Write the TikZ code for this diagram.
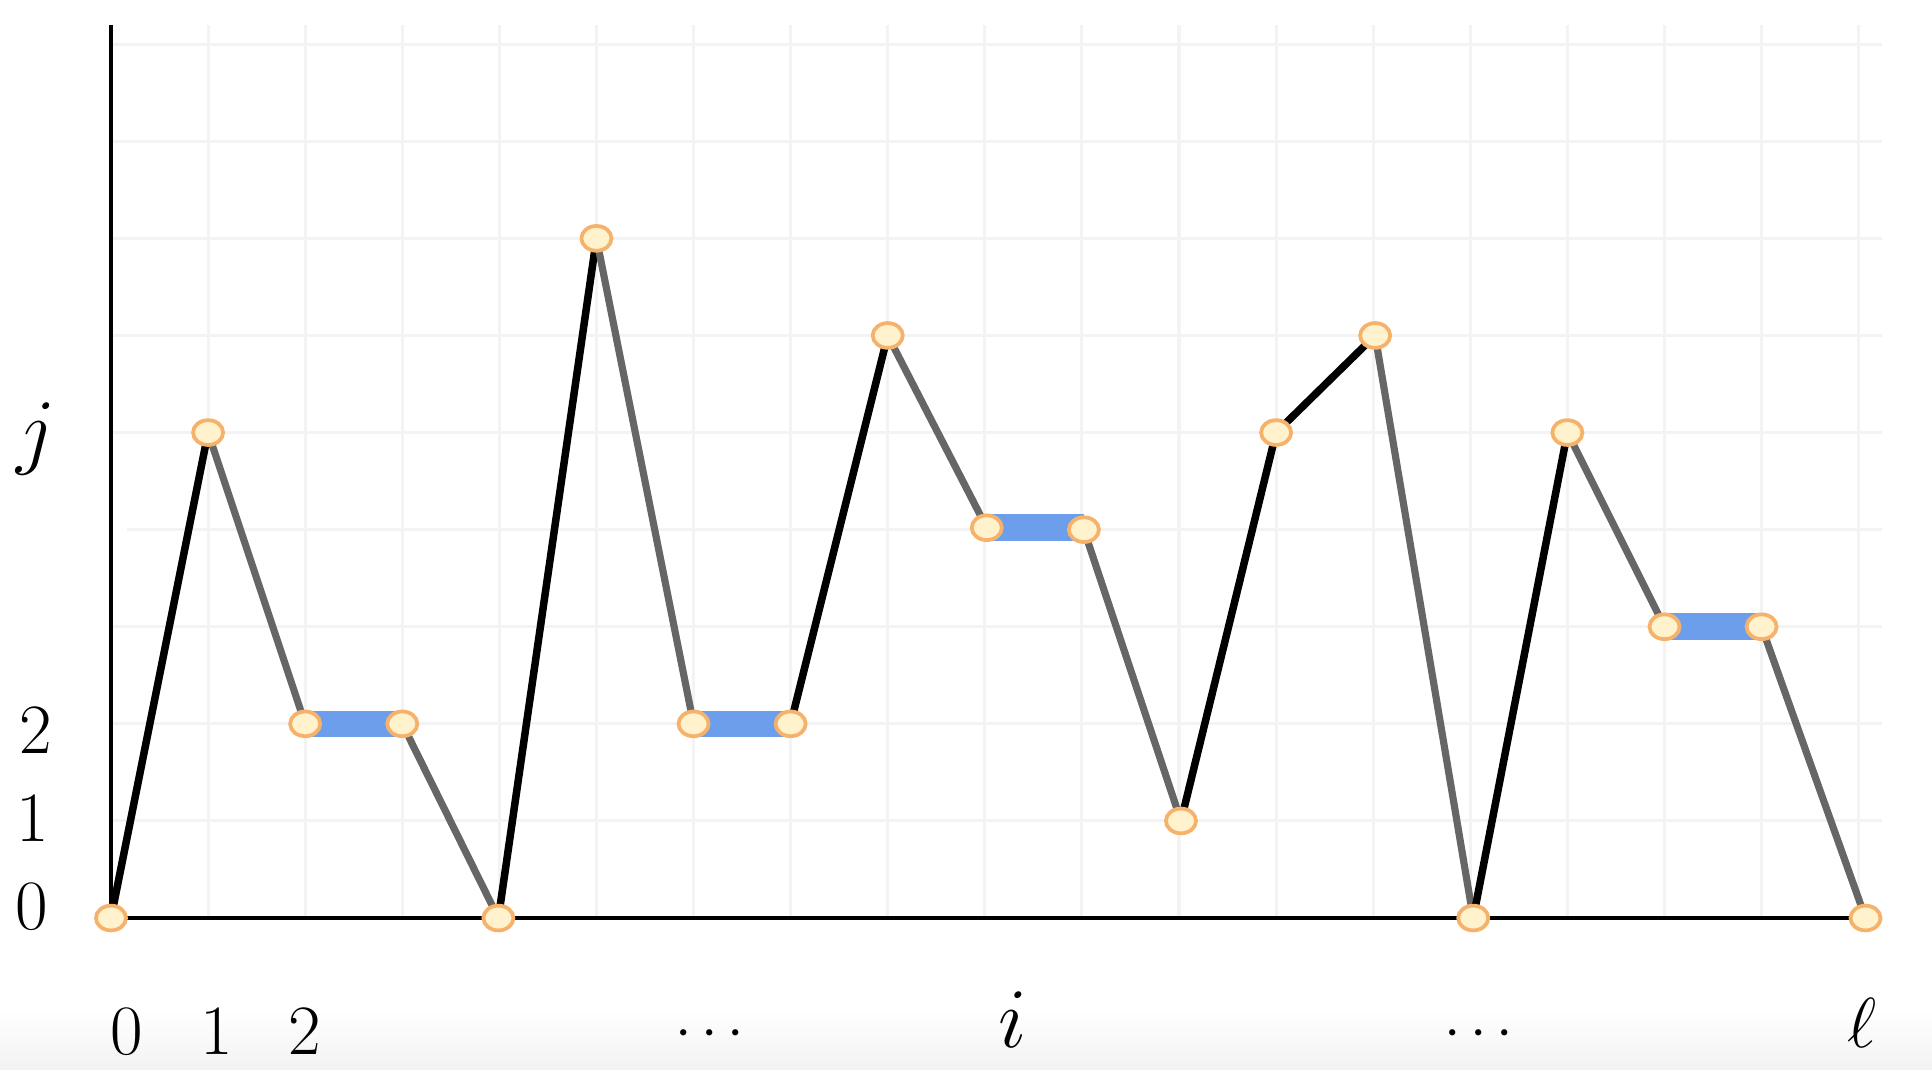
\documentclass[tikz,border=0pt]{standalone}
\usetikzlibrary{shapes.geometric}
\pgfdeclarelayer{background}
\pgfsetlayers{background,main}
\definecolor{gridc}{HTML}{F3F3F3}
\definecolor{dotfill}{HTML}{FFF2CC}
\definecolor{dotline}{HTML}{F6B26B}
\definecolor{bluec}{HTML}{6D9EEB}
\definecolor{grayc}{HTML}{666666}
\begin{document}
\begin{tikzpicture}[x=1cm,y=1cm,
  dot/.style={ellipse, draw=dotline, fill=dotfill, line width=1.1pt,
    minimum width=0.31cm, minimum height=0.255cm, inner sep=0pt},
  upedge/.style={black, line width=2.2pt},
  downedge/.style={grayc, line width=2.1pt},
  flatedge/.style={bluec, line width=7.8pt},
  gridline/.style={gridc, line width=0.9pt},
  axisline/.style={black, line width=1.1pt},
  digit/.style={inner sep=0pt, anchor=base, font=\fontsize{20.5}{24}\selectfont},
  letter/.style={inner sep=0pt, anchor=base, font=\fontsize{25}{28}\selectfont},
  ell/.style={inner sep=0pt, anchor=base, font=\fontsize{21}{24}\selectfont},
  dotslab/.style={inner sep=0pt, anchor=base, font=\fontsize{17}{20}\selectfont}]
\useasboundingbox (-1.143,-1.565) rectangle (18.755,9.455);
\begin{pgfonlayer}{background}
  \shade[top color=white, bottom color=black!5] (-1.143,-1.565) rectangle (18.755,-0.95);
  \foreach \x in {1,...,18} \draw[gridline] (\x,0) -- (\x,9.2);
  \foreach \y in {1,2,3,5,6,7,8,9} \draw[gridline] (0.02,\y) -- (18.24,\y);
  \draw[gridline] (0.16,4) -- (18.24,4);
\end{pgfonlayer}

% points
\node[dot] (p0) at (0,0) {};
\node[dot] (p1) at (1,5) {};
\node[dot] (p2) at (2,2) {};
\node[dot] (p3) at (3,2) {};
\node[dot] (p4) at (3.99,0) {};
\node[dot] (p5) at (5,7) {};
\node[dot] (p6) at (6,2) {};
\node[dot] (p7) at (7,2) {};
\node[dot] (p8) at (8,6) {};
\node[dot] (p9) at (9.02,4.02) {};
\node[dot] (p10) at (10.02,4) {};
\node[dot] (p11) at (11.02,1) {};
\node[dot] (p12) at (12,5) {};
\node[dot] (p13) at (13.02,6) {};
\node[dot] (p14) at (14.03,0) {};
\node[dot] (p15) at (15,5) {};
\node[dot] (p16) at (16,3) {};
\node[dot] (p17) at (17,3) {};
\node[dot] (p18) at (18.07,0) {};
\coordinate (ytop) at (0,9.2);

% labels
\node[digit] (y0) at (-0.82,-0.12) {$0$};
\node[digit] (y1) at (-0.81,0.79) {$1$};
\node[digit] (y2) at (-0.78,1.69) {$2$};
\node[letter] (yj) at (-0.77,4.73) {$j$};
\node[digit] (x0) at (0.16,-1.41) {$0$};
\node[digit] (x1) at (1.09,-1.41) {$1$};
\node[digit] (x2) at (2.0,-1.41) {$2$};
\node[dotslab] (d1) at (6.17,-1.33) {$\cdots$};
\node[letter] (xi) at (9.29,-1.33) {$i$};
\node[dotslab] (d2) at (14.09,-1.33) {$\cdots$};
\node[ell] (xl) at (18.03,-1.33) {$\ell$};

\begin{pgfonlayer}{background}
  \draw[axisline] (p0.center) -- (ytop);
  \draw[axisline] (p0.center) -- (p18.center);
  \draw[upedge] (p0.center) -- (p1.center);
  \draw[downedge] (p1.center) -- (p2.center);
  \draw[flatedge] (p2.center) -- (p3.center);
  \draw[downedge] (p3.center) -- (p4.center);
  \draw[upedge] (p4.center) -- (p5.center);
  \draw[downedge] (p5.center) -- (p6.center);
  \draw[flatedge] (p6.center) -- (p7.center);
  \draw[upedge] (p7.center) -- (p8.center);
  \draw[downedge] (p8.center) -- (p9.center);
  \draw[flatedge] (p9.center) -- (p10.center |- p9.center);
  \draw[downedge] (p10.center) -- (p11.center);
  \draw[upedge] (p11.center) -- (p12.center);
  \draw[upedge] (p12.center) -- (p13.center);
  \draw[downedge] (p13.center) -- (p14.center);
  \draw[upedge] (p14.center) -- (p15.center);
  \draw[downedge] (p15.center) -- (p16.center);
  \draw[flatedge] (p16.center) -- (p17.center);
  \draw[downedge] (p17.center) -- (p18.center);
\end{pgfonlayer}
\end{tikzpicture}
\end{document}
